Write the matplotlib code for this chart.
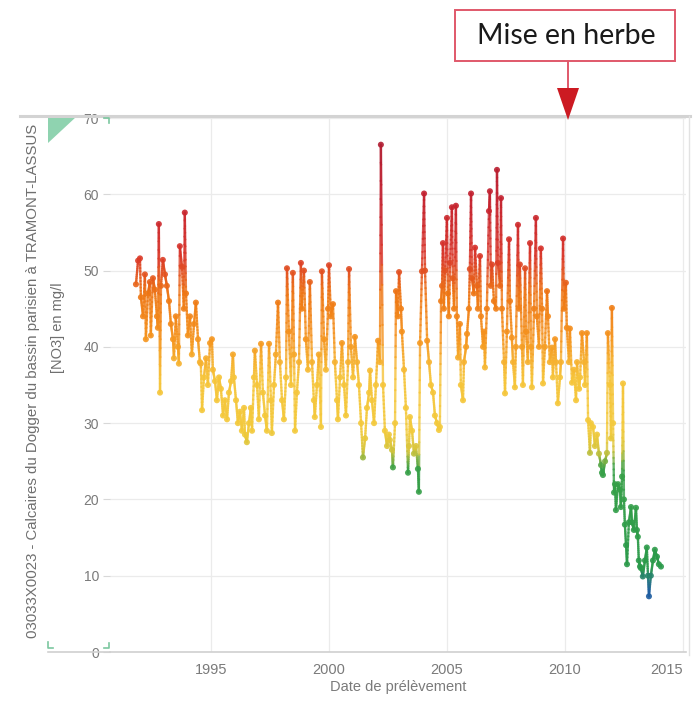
import numpy as np
import matplotlib
matplotlib.use("Agg")
import matplotlib.pyplot as plt
from matplotlib.collections import LineCollection
from matplotlib.colors import LinearSegmentedColormap, Normalize
from matplotlib.patches import Rectangle, Polygon
from matplotlib.lines import Line2D
from matplotlib.transforms import Affine2D

# ---------------- data ----------------
dates = [
    1991.82, 1991.91, 1991.99, 1992.03, 1992.12, 1992.20, 1992.24, 1992.33, 1992.41, 1992.45,
    1992.54, 1992.62, 1992.71, 1992.75, 1992.79, 1992.84, 1992.88, 1992.96, 1993.05, 1993.13,
    1993.22, 1993.30, 1993.39, 1993.43, 1993.51, 1993.60, 1993.64, 1993.68, 1993.77, 1993.85,
    1993.89, 1993.94, 1994.02, 1994.11, 1994.19, 1994.28, 1994.36, 1994.45, 1994.53, 1994.57,
    1994.62,
    1994.70, 1994.79, 1994.87, 1994.96, 1995.04, 1995.08, 1995.17, 1995.25, 1995.34, 1995.42,
    1995.51, 1995.59, 1995.68, 1995.76, 1995.85, 1995.93, 1995.97, 1996.06, 1996.14, 1996.23,
    1996.31, 1996.40, 1996.44, 1996.52, 1996.61, 1996.69, 1996.74, 1996.82, 1996.86, 1996.95,
    1997.03, 1997.12, 1997.20, 1997.29, 1997.37, 1997.46, 1997.54, 1997.58, 1997.67, 1997.75,
    1997.84, 1997.92, 1998.01, 1998.09, 1998.18, 1998.22, 1998.30, 1998.39, 1998.47, 1998.52,
    1998.56, 1998.64, 1998.73, 1998.81, 1998.85, 1998.94, 1999.02, 1999.11, 1999.19, 1999.28,
    1999.36, 1999.40, 1999.49, 1999.57, 1999.66, 1999.70, 1999.79, 1999.87, 1999.96, 2000.00,
    2000.08, 2000.17, 2000.25, 2000.34, 2000.38, 2000.47, 2000.55, 2000.64, 2000.72, 2000.81,
    2000.85, 2000.93, 2001.02, 2001.10, 2001.19, 2001.27, 2001.36, 2001.44, 2001.53, 2001.61,
    2001.70, 2001.74, 2001.82, 2001.91, 2001.99, 2002.08, 2002.16, 2002.20, 2002.29, 2002.37,
    2002.46, 2002.54, 2002.58, 2002.67, 2002.71, 2002.80, 2002.84, 2002.92, 2002.97, 2003.05,
    2003.09, 2003.18, 2003.26, 2003.35, 2003.39, 2003.43, 2003.52, 2003.60, 2003.69, 2003.77,
    2003.81, 2003.86, 2003.94, 2004.03, 2004.07, 2004.16, 2004.24, 2004.32, 2004.41, 2004.49,
    2004.58, 2004.66, 2004.70,
    2004.75, 2004.79, 2004.83, 2004.87, 2004.92, 2005.00, 2005.04, 2005.08, 2005.13, 2005.21,
    2005.25, 2005.30, 2005.38, 2005.42, 2005.47, 2005.55, 2005.59, 2005.68, 2005.72, 2005.81,
    2005.85, 2005.93, 2005.97, 2006.02, 2006.06, 2006.14, 2006.19, 2006.27, 2006.31, 2006.40,
    2006.44, 2006.53, 2006.57, 2006.61, 2006.69, 2006.78, 2006.82, 2006.86, 2006.91, 2006.99,
    2007.08, 2007.12, 2007.16, 2007.25, 2007.29, 2007.33, 2007.42, 2007.46, 2007.54, 2007.63,
    2007.67, 2007.75, 2007.80, 2007.88, 2007.92, 2008.01, 2008.05, 2008.09, 2008.18, 2008.22,
    2008.31, 2008.35, 2008.43, 2008.52, 2008.56, 2008.60, 2008.69, 2008.77, 2008.81, 2008.90,
    2008.98, 2009.03, 2009.07, 2009.15, 2009.24, 2009.28, 2009.36, 2009.45, 2009.49, 2009.58,
    2009.62, 2009.70, 2009.79, 2009.83, 2009.92, 2009.96, 2010.04, 2010.08, 2010.17, 2010.21,
    2010.30, 2010.38, 2010.47, 2010.51, 2010.60, 2010.64, 2010.72, 2010.81, 2010.85, 2010.93,
    2010.98, 2011.06, 2011.10, 2011.19, 2011.27, 2011.36, 2011.44, 2011.53, 2011.57, 2011.61,
    2011.70, 2011.78, 2011.82, 2011.91, 2011.95, 2011.99, 2012.04, 2012.08, 2012.12, 2012.16,
    2012.25, 2012.33, 2012.37, 2012.42, 2012.46, 2012.50, 2012.54, 2012.59, 2012.63, 2012.71,
    2012.80, 2012.84, 2012.92, 2013.01, 2013.05, 2013.09, 2013.13, 2013.18, 2013.22, 2013.30,
    2013.39, 2013.47, 2013.52, 2013.56, 2013.64, 2013.73, 2013.81, 2013.90, 2013.98, 2014.07,
]

nitrate = [
    48.2, 51.3, 51.6, 46.5, 44.0, 49.5, 41.0, 47.0, 48.5, 41.5,
    49.0, 47.5, 44.0, 42.5, 56.1, 34.0, 48.0, 51.4, 49.5, 48.0,
    46.0, 43.0, 41.0, 38.5, 44.0, 40.0, 37.8, 53.2, 50.5, 45.0,
    57.6, 47.0, 41.5, 44.0, 39.0, 43.0, 45.8, 41.0, 38.0, 37.8,
    31.7,
    36.0, 38.5, 35.0, 40.5, 41.0, 37.0, 35.5, 33.0, 36.0, 34.5,
    31.0, 33.0, 30.5, 34.0, 35.5, 39.0, 36.0, 33.0, 30.0, 31.5,
    29.0, 32.0, 28.5, 27.5, 30.0, 32.0, 29.0, 36.0, 39.5, 35.0,
    30.5, 40.4, 34.0, 31.0, 29.0, 40.4, 33.0, 28.7, 35.0, 39.0,
    45.8, 38.0, 33.0, 30.5, 36.0, 50.3, 42.0, 35.0, 49.7, 39.0,
    29.0, 34.0, 38.0, 51.0, 45.0, 50.0, 41.0, 37.0, 48.5, 38.0,
    33.0, 30.8, 35.0, 39.0, 29.5, 49.9, 41.0, 37.0, 45.0, 50.7,
    44.0, 45.6, 38.0, 33.0, 30.5, 36.0, 40.5, 35.0, 31.0, 38.0,
    50.2, 40.0, 36.0, 41.3, 38.0, 35.0, 30.0, 25.5, 28.0, 32.0,
    34.0, 36.9, 33.0, 30.0, 35.0, 40.8, 38.0, 66.5, 35.0, 29.0,
    27.0, 28.5, 27.8, 26.5, 24.2, 30.0, 47.3, 44.0, 49.8, 45.0,
    42.0, 37.0, 32.0, 23.5, 27.0, 30.8, 29.0, 26.0, 27.0, 24.0,
    21.0, 40.5, 49.9, 60.1, 50.0, 40.8, 38.0, 35.0, 34.0, 31.0,
    30.0, 29.1, 29.5,
    46.0, 48.0, 53.6, 45.0, 50.0, 56.9, 47.0, 44.0, 51.0, 58.3,
    49.0, 45.0, 58.5, 44.0, 38.6, 43.0, 35.0, 33.0, 38.0, 40.0,
    41.7, 45.0, 50.2, 60.1, 49.0, 47.0, 53.0, 48.0, 45.0, 51.9,
    44.0, 40.0, 42.0, 37.3, 45.0, 57.8, 60.4, 48.0, 50.8, 46.0,
    45.0, 63.2, 51.0, 48.0, 59.5, 45.0, 38.0, 33.9, 42.0, 54.1,
    46.0, 41.2, 38.0, 34.7, 40.0, 56.0, 45.0, 50.8, 40.0, 35.0,
    50.3, 42.0, 38.0, 53.6, 40.0, 34.7, 45.0, 56.9, 44.0, 40.0,
    52.9, 45.0, 35.2, 40.0, 47.3, 44.0, 38.0, 39.9, 36.0, 41.0,
    38.0, 32.6, 36.0, 38.0, 54.2, 45.0, 48.4, 42.5, 38.0, 42.4,
    35.3, 37.0, 33.0, 38.0, 34.5, 36.0, 41.8, 38.0, 35.0, 41.8,
    30.4, 26.1, 30.0, 29.5, 27.0, 28.5, 26.0, 24.5, 23.5, 23.2,
    25.0, 26.1, 41.8, 35.0, 28.0, 45.1, 30.0, 20.9, 22.0, 18.6,
    22.0, 21.3, 19.0, 23.0, 35.2, 20.0, 16.7, 14.0, 11.5, 17.0,
    19.0, 17.0, 16.0, 18.9, 16.0, 15.1, 12.0, 11.2, 11.0, 9.9,
    12.0, 13.7, 10.0, 7.3, 10.0, 12.0, 13.4, 12.5, 11.5, 11.2,
]

x_ticks = [1995, 2000, 2005, 2010, 2015]
y_ticks = [0, 10, 20, 30, 40, 50, 60, 70]
y_label_main = "03033X0023 - Calcaires du Dogger du bassin parisien à TRAMONT-LASSUS"
y_label_unit = "[NO3] en mg/l"
x_label = "Date de prélèvement"
annotation_text = "Mise en herbe"
annotation_year = 2010.13

# colour scale by nitrate value
scale_values = [0, 8, 11, 24, 26.5, 29, 36, 41, 47, 52, 60, 70]
scale_colors = ['#1a4f9c', '#1f5fa0', '#2a9a4a', '#38a048', '#d8c53c', '#f3ca3c',
                '#f6c43a', '#f5951f', '#ee7614', '#d9352a', '#c2202f', '#a81c33']

# ---------------- figure ----------------
W, H = 697, 701
fig = plt.figure(figsize=(W / 100, H / 100), dpi=100)
fig.patch.set_facecolor('white')
pxt = Affine2D().scale(1 / W, -1 / H).translate(0, 1) + fig.transFigure

ax = fig.add_axes([110 / W, 1 - 652 / H, 576 / W, 534 / H])
ax.set_xlim(1990.72, 2015.13)
ax.set_ylim(0, 70)

cmap = LinearSegmentedColormap.from_list(
    'no3', [(v / 70.0, c) for v, c in zip(scale_values, scale_colors)])
norm = Normalize(0, 70)

t = np.asarray(dates, dtype=float)
v = np.asarray(nitrate, dtype=float)
segs, cols = [], []
k = 12
for i in range(len(t) - 1):
    ts = np.linspace(t[i], t[i + 1], k + 1)
    vs = np.linspace(v[i], v[i + 1], k + 1)
    for j in range(k):
        segs.append([(ts[j], vs[j]), (ts[j + 1], vs[j + 1])])
        cols.append(cmap(norm(0.5 * (vs[j] + vs[j + 1]))))
lc = LineCollection(segs, colors=cols, linewidths=1.7, alpha=0.8, capstyle='round', zorder=2)
ax.add_collection(lc)
ax.scatter(t, v, c=v, cmap=cmap, norm=norm, s=19, edgecolors='none', alpha=0.9, zorder=3)

# axes styling
for s in ax.spines.values():
    s.set_visible(False)
ax.spines['bottom'].set_visible(True)
ax.spines['bottom'].set_color('#d0d0d0')
ax.spines['bottom'].set_linewidth(1.2)
ax.set_xticks(x_ticks)
ax.set_yticks(y_ticks)
ax.grid(True, color='#ebebeb', linewidth=0.9)
ax.set_axisbelow(True)
ax.tick_params(axis='x', length=0, pad=8, labelsize=10.5, labelcolor='#7a7a7a')
ax.tick_params(axis='y', length=5, width=0.8, color='#d8d8d8', pad=3,
               labelsize=10, labelcolor='#7a7a7a')
for lab in ax.get_xticklabels():
    lab.set_fontfamily('Liberation Sans')
for lab in ax.get_yticklabels():
    lab.set_fontfamily('Liberation Sans')
xl = ax.get_xticklabels()
xl[-1].set_horizontalalignment('right')
ax.set_xlabel(x_label, fontsize=10.5, color='#7a7a7a', family='Liberation Sans', labelpad=2)

# y labels
fig.text(33 / W, 1 - 381 / H, y_label_main, rotation=90, ha='center', va='center',
         fontsize=10.8, color='#6f6f6f', family='Liberation Sans')
fig.text(58 / W, 1 - 328 / H, y_label_unit, rotation=90, ha='center', va='center',
         fontsize=10.5, color='#6f6f6f', family='Liberation Sans')

# panel frame
fig.add_artist(Line2D([20, 690], [116, 116], transform=pxt, color='#d3d3d3', lw=2.2))
fig.add_artist(Line2D([48, 110], [652, 652], transform=pxt, color='#d0d0d0', lw=1.2))
fig.add_artist(Line2D([689, 689], [116, 655], transform=pxt, color='#e2e2e2', lw=1.0))
fig.add_artist(Polygon([[48, 117], [76, 117], [48, 143]], closed=True, transform=pxt,
                       facecolor='#8fd3b0', edgecolor='none'))
# small green corner marks
gc = '#7cc7a0'
fig.add_artist(Line2D([104, 109, 109], [118, 118, 123], transform=pxt, color=gc, lw=1.2))
fig.add_artist(Line2D([104, 109, 109], [648, 648, 643], transform=pxt, color=gc, lw=1.2))
fig.add_artist(Line2D([48, 48, 53], [642, 648, 648], transform=pxt, color=gc, lw=1.2))

# annotation: box + line + triangle
xfig = fig.transFigure.inverted().transform(ax.transData.transform((annotation_year, 0)))[0]
xa = xfig * W
fig.add_artist(Rectangle((xa - 113, 10), 220, 51, transform=pxt, facecolor='white',
                         edgecolor='#e0586a', lw=1.4))
fig.text((xa - 2) / W, 1 - 36 / H, annotation_text, ha='center', va='center',
         fontsize=20.5, color='#1a1a1a', family='Lato')
fig.add_artist(Line2D([xa, xa], [61, 89], transform=pxt, color='#e0586a', lw=1.4))
fig.add_artist(Polygon([[xa - 11, 88], [xa + 11, 88], [xa, 120]], closed=True, transform=pxt,
                       facecolor='#cc1a22', edgecolor='none', zorder=5))

fig.savefig('out.png', dpi=100, facecolor='white')
